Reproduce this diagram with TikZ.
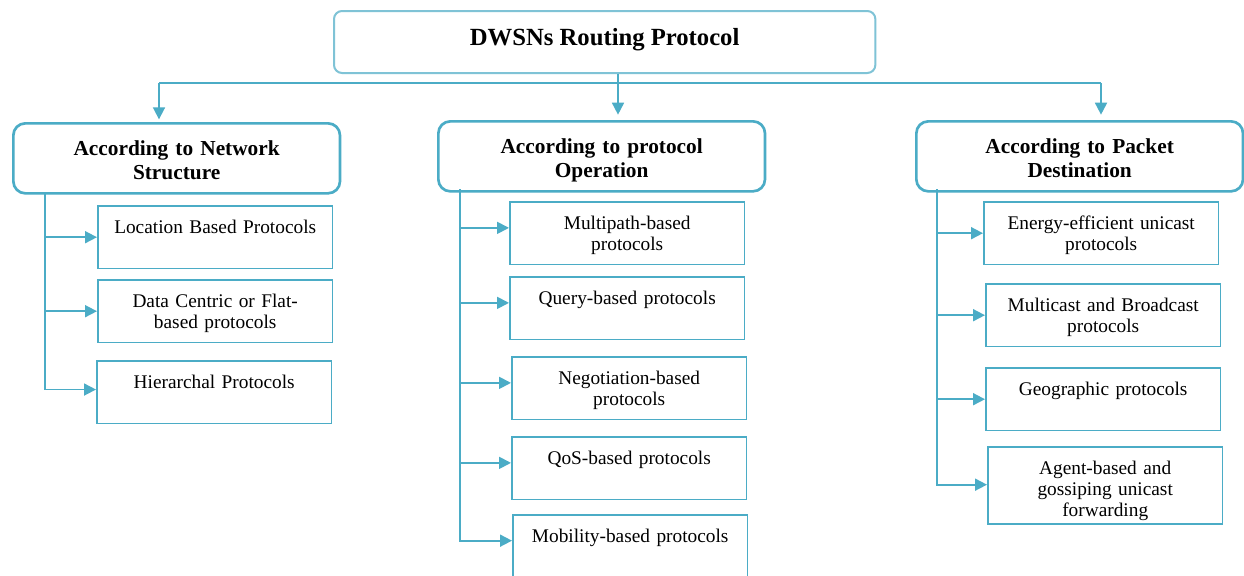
\documentclass[tikz,border=0pt]{standalone}
\usepackage{fontspec}
\setmainfont{Liberation Serif}
\usetikzlibrary{arrows.meta,positioning}
\definecolor{edge}{HTML}{4BACC6}
\definecolor{edgelt}{HTML}{7FC3D6}
\tikzset{
  root/.style={draw=edgelt,line width=1.5pt,rounded corners=6pt,anchor=north west,inner sep=0pt,
    minimum width=406pt,text height=26pt,text depth=20.5pt,
    font=\fontsize{18.5}{20}\selectfont\bfseries},
  group/.style={draw=edge,line width=2pt,rounded corners=9pt,anchor=north west,inner sep=0pt,
    text width=245pt,align=center,text height=24pt,text depth=28.5pt,
    font=\fontsize{16}{18}\selectfont\bfseries},
  leaf/.style={draw=edge,line width=1.3pt,anchor=north west,inner sep=0pt,
    text width=176pt,align=center,text height=21pt,text depth=26pt,
    font=\fontsize{14.5}{15.75}\selectfont},
  arr/.style={-{Triangle[length=9pt,width=9pt]},line width=1.3pt,draw=edge},
  link/.style={line width=1.3pt,draw=edge}
}

\begin{document}
\begin{tikzpicture}[x=0.75pt,y=-0.75pt]
\path[use as bounding box,fill=white] (0,0) rectangle (1244,575);

\node[root] (title) at (333,10) {DWSNs Routing Protocol};

\node[group] (netw) at (12,122) {According to Network\\Structure};
\node[group] (oper) at (437,120) {According to protocol\\Operation};
\node[group] (dest) at (915,120) {According to Packet\\Destination};

\node[leaf] (loc) at (97,205) {Location Based Protocols};
\node[leaf] (dcf) at (97,279) {Data Centric or Flat-\\based protocols};
\node[leaf] (hier) at (96,360) {Hierarchal Protocols};

\node[leaf] (mpath) at (509,201) {Multipath-based\\protocols};
\node[leaf] (query) at (509,276) {Query-based protocols};
\node[leaf] (nego) at (511,356) {Negotiation-based\\protocols};
\node[leaf] (qos) at (511,436) {QoS-based protocols};
\node[leaf,text depth=40pt] (mob) at (512,514) {Mobility-based protocols};

\node[leaf] (eeu) at (983,201) {Energy-efficient unicast\\protocols};
\node[leaf] (mcast) at (985,283) {Multicast and Broadcast\\protocols};
\node[leaf] (geo) at (985,367) {Geographic protocols};
\node[leaf,text depth=36.75pt] (agent) at (987,446) {Agent-based and\\gossiping unicast\\forwarding};

\coordinate (busL) at (159,83);
\coordinate (busM) at (618,83);
\coordinate (busR) at (1101,83);
\draw[link] (busL) -- (busR);
\draw[arr,shorten >=4pt] (title.south -| busM) -- (oper.north -| busM);
\draw[arr,shorten >=2pt] (busL) -- (netw.north -| busL);
\draw[arr,shorten >=4pt] (busR) -- (dest.north -| busR);

\coordinate (tL) at (45,192);
\coordinate (tM) at (460,189);
\coordinate (tR) at (937,189);
\draw[arr] (tL) |- ([yshift=2pt]hier.west);
\foreach \b in {loc,dcf} \draw[arr] (tL |- \b.west) -- (\b.west);
\draw[arr] (tM) |- ([yshift=-20pt]mob.north west);
\foreach \b in {mpath,query,nego,qos}{
  \coordinate (\b-in) at ([yshift=4pt]\b.west);
  \draw[arr] (tM |- \b-in) -- (\b-in);
}
\draw[arr] (tR) |- ([yshift=-29pt]agent.north west);
\foreach \b in {eeu,mcast,geo} \draw[arr] (tR |- \b.west) -- (\b.west);
\end{tikzpicture}
\end{document}
